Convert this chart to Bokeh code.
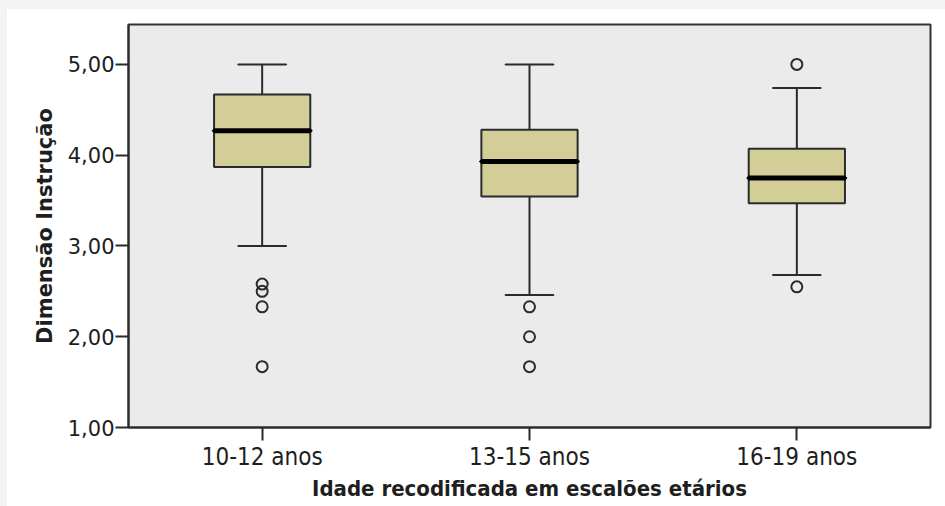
from bokeh.plotting import figure
from bokeh.models import FixedTicker
from bokeh.embed import file_html
from bokeh.resources import INLINE

# Age groups and box-plot statistics for "Dimensão Instrução"
groups = ["10-12 anos", "13-15 anos", "16-19 anos"]
q1 = [3.87, 3.545, 3.47]
median = [4.27, 3.93, 3.75]
q3 = [4.67, 4.28, 4.07]
whisker_low = [3.00, 2.46, 2.68]
whisker_high = [5.00, 5.00, 4.74]

outlier_groups = ["10-12 anos", "10-12 anos", "10-12 anos", "10-12 anos",
                  "13-15 anos", "13-15 anos", "13-15 anos",
                  "16-19 anos", "16-19 anos"]
outlier_values = [2.58, 2.50, 2.33, 1.67,
                  2.33, 2.00, 1.67,
                  5.00, 2.55]

y_ticks = [1, 2, 3, 4, 5]
y_tick_labels = ["1,00", "2,00", "3,00", "4,00", "5,00"]

BOX_W = 0.36
CAP_W = 0.18
INK = "#2b2b2b"
NARROW = "'DejaVu Sans Condensed', 'Liberation Sans Narrow', 'DejaVu Sans'"
BAND = "linear-gradient(#f3f3f3, #f3f3f3)"

p = figure(
    x_range=groups, y_range=(1.0, 5.44),
    width=945, height=506,
    output_backend="svg", toolbar_location=None,
    min_border_left=128, min_border_right=15,
    min_border_top=24, min_border_bottom=79,
    background_fill_color="#ebebeb",
)
# transparent canvas border; the page area behind it has grey top/left bands
p.border_fill_color = None
p.styles = {
    "background": f"{BAND} left top / 100% 9px no-repeat, "
                  f"{BAND} left top / 7px 100% no-repeat, white",
}
p.outline_line_color = "#333333"
p.outline_line_width = 2
p.xgrid.visible = False
p.ygrid.visible = False
p.x_range.range_padding = 0

# whiskers
p.segment(x0=groups, y0=q3, x1=groups, y1=whisker_high, line_color=INK, line_width=2)
p.segment(x0=groups, y0=q1, x1=groups, y1=whisker_low, line_color=INK, line_width=2)
p.hbar(y=whisker_high, left=[(g, -CAP_W / 2) for g in groups],
       right=[(g, CAP_W / 2) for g in groups], height=0.0001,
       line_color=INK, line_width=2, fill_alpha=0)
p.hbar(y=whisker_low, left=[(g, -CAP_W / 2) for g in groups],
       right=[(g, CAP_W / 2) for g in groups], height=0.0001,
       line_color=INK, line_width=2, fill_alpha=0)

# boxes
p.vbar(x=groups, bottom=q1, top=q3, width=BOX_W,
       fill_color="#d3ce98", line_color=INK, line_width=2)
# medians
p.hbar(y=median, left=[(g, -BOX_W / 2) for g in groups],
       right=[(g, BOX_W / 2) for g in groups], height=0.0001,
       line_color="black", line_width=5, fill_alpha=0)

# outliers
p.scatter(x=outlier_groups, y=outlier_values, marker="circle", size=11,
          fill_alpha=0, line_color=INK, line_width=2)

# axes
p.yaxis.ticker = FixedTicker(ticks=y_ticks)
p.yaxis.major_label_overrides = {t: lab for t, lab in zip(y_ticks, y_tick_labels)}
p.yaxis.minor_tick_line_color = None
for ax in (p.xaxis[0], p.yaxis[0]):
    ax.major_tick_in = 0
    ax.major_tick_out = 13
    ax.major_tick_line_color = INK
    ax.major_tick_line_width = 2
    ax.axis_line_color = INK
    ax.axis_line_width = 2
    ax.major_label_text_color = "#1e1e1e"
    ax.axis_label_text_color = "#1e1e1e"
    ax.axis_label_text_font_style = "bold"

p.yaxis.axis_label = "Dimensão Instrução"
p.yaxis.major_label_text_font = "DejaVu Sans"
p.yaxis.major_label_text_font_size = "21px"
p.yaxis.major_label_standoff = 1
p.yaxis.axis_label_text_font = "DejaVu Sans"
p.yaxis.axis_label_text_font_size = "21px"
p.yaxis.axis_label_standoff = 8

p.xaxis.axis_label = "Idade recodificada em escalões etários"
p.xaxis.major_label_text_font = NARROW
p.xaxis.major_label_text_font_size = "24px"
p.xaxis.major_label_standoff = 2
p.xaxis.axis_label_text_font = NARROW
p.xaxis.axis_label_text_font_size = "22px"
p.xaxis.axis_label_standoff = 2

open("out.html", "w").write(file_html(p, INLINE))
